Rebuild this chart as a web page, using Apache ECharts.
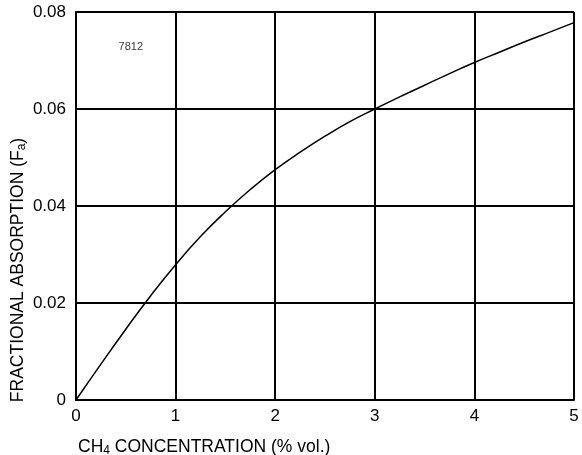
<!DOCTYPE html>
<html>
<head>
<meta charset="utf-8">
<script src="https://cdn.jsdelivr.net/npm/echarts@6/dist/echarts.min.js"></script>
<style>html,body{margin:0;padding:0;background:#fff}#c{width:582px;height:455px}</style>
</head>
<body>
<div id="c"></div>
<script>
const concentration = [0, 0.25, 0.5, 0.75, 1, 1.25, 1.5, 1.75, 2, 2.25, 2.5, 2.75, 3, 3.25, 3.5, 3.75, 4, 4.25, 4.5, 4.75, 5];
const absorption = [0, 0.0074, 0.0146, 0.0215, 0.0279, 0.0337, 0.0388, 0.0434, 0.0475, 0.0511, 0.0544, 0.0574, 0.0600, 0.0625, 0.0649, 0.0673, 0.0696, 0.0717, 0.0738, 0.0758, 0.0778];
const xTicks = [0, 1, 2, 3, 4, 5];
const yTicks = [0, 0.02, 0.04, 0.06, 0.08];
const annotation = '7812';
const annotationAt = [0.55, 0.0728];

const font = '"Liberation Sans", Arial, sans-serif';
const chart = echarts.init(document.getElementById('c'), null, {renderer: 'canvas'});
chart.setOption({
  animation: false,
  grid: {left: 76, right: 8, top: 12, bottom: 55, show: false},
  xAxis: {
    type: 'value', min: 0, max: 5, interval: 1,
    axisLine: {show: true, lineStyle: {color: '#000', width: 2}},
    axisTick: {show: false},
    splitLine: {show: true, lineStyle: {color: '#000', width: 2}},
    axisLabel: {color: '#000', fontSize: 17, fontFamily: font, margin: 8,
      formatter: v => xTicks.includes(v) ? String(v) : ''}
  },
  yAxis: {
    type: 'value', min: 0, max: 0.08, interval: 0.02,
    axisLine: {show: true, lineStyle: {color: '#000', width: 2}},
    axisTick: {show: false},
    splitLine: {show: true, lineStyle: {color: '#000', width: 2}},
    axisLabel: {color: '#000', fontSize: 17, fontFamily: font, margin: 10,
      formatter: v => { const t = yTicks.find(y => Math.abs(y - v) < 1e-9); return t === undefined ? '' : (t === 0 ? '0' : t.toFixed(2)); }}
  },
  series: [{
    type: 'line', smooth: 0.5, symbol: 'none',
    lineStyle: {color: '#000', width: 1.5},
    data: concentration.map((c, i) => [c, absorption[i]])
  }, {
    type: 'line', data: [[0, 0.08], [5, 0.08]], symbol: 'none',
    lineStyle: {color: '#000', width: 2}, silent: true
  }, {
    type: 'line', data: [[5, 0], [5, 0.08]], symbol: 'none',
    lineStyle: {color: '#000', width: 2}, silent: true
  }, {
    type: 'scatter', symbolSize: 1, itemStyle: {color: 'rgba(0,0,0,0)'},
    data: [annotationAt],
    label: {show: true, position: 'inside', formatter: annotation, color: '#000', fontSize: 11, fontFamily: font}
  }],
  graphic: [{
    type: 'text', left: 78, top: 438,
    style: {
      text: '{a|CH}{s|4}{a| CONCENTRATION (% vol.)}',
      rich: {
        a: {fontSize: 17.5, fontFamily: font, fill: '#000'},
        s: {fontSize: 12, fontFamily: font, fill: '#000', padding: [8, 0, 0, 0]}
      }
    }
  }, {
    type: 'text', x: 18, y: 270, rotation: Math.PI / 2,
    style: {
      text: '{a|FRACTIONAL ABSORPTION (F}{s|a}{a|)}',
      align: 'center', verticalAlign: 'middle',
      rich: {
        a: {fontSize: 17.5, fontFamily: font, fill: '#000'},
        s: {fontSize: 12, fontFamily: font, fill: '#000', padding: [8, 0, 0, 0]}
      }
    }
  }]
});
</script>
</body>
</html>
